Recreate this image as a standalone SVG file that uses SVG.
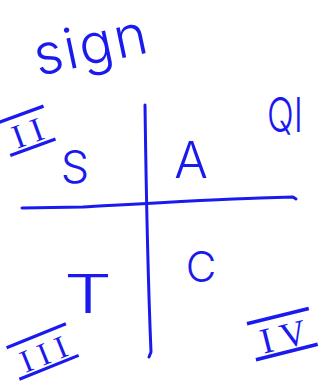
<svg xmlns="http://www.w3.org/2000/svg" width="327" height="383" viewBox="0 0 327 383">
<style>
.ink{fill:#1a1aee;font-family:Inter,Roboto,"Liberation Sans",sans-serif;font-weight:300;}
.rom{fill:#1a1aee;font-family:"Liberation Serif","Times New Roman",serif;text-decoration:overline underline;white-space:pre;}
.ax{fill:none;stroke:#1a1aee;stroke-width:3;stroke-linecap:round;stroke-linejoin:round;}
</style>
<rect width="327" height="383" fill="#ffffff"/>
<g id="axes">
<path class="ax" d="M145,105 C146,180 148,280 151,352 L149,357"/>
<path class="ax" d="M22,208 L83,207 C120,205 200,200 260,198 L293,197 L296,199"/>
</g>
<g id="title"><text class="ink" x="38" y="76" font-size="56" letter-spacing="2" transform="rotate(-12 38 76)">sign</text></g>
<g id="q2"><text class="rom" x="0" y="0" font-size="34" transform="translate(9 152) rotate(-20)"> I I </text></g>
<g id="q1"><text class="ink" x="267" y="132" font-size="48" textLength="36" lengthAdjust="spacingAndGlyphs">QI</text></g>
<g id="q3"><text class="rom" x="0" y="0" font-size="32" transform="translate(18 376) rotate(-22)"> I I I </text></g>
<g id="q4"><text class="rom" x="0" y="0" font-size="36" transform="translate(255 356) rotate(-14)"> I V </text></g>
<g id="s"><text class="ink" x="75" y="183" font-size="45" text-anchor="middle">S</text></g>
<g id="a"><text class="ink" x="191" y="178" font-size="50" text-anchor="middle">A</text></g>
<g id="t"><text class="ink" x="0" y="0" font-size="54" transform="translate(64 313) scale(1.4 1)">T</text></g>
<g id="c"><text class="ink" x="201" y="282" font-size="42" text-anchor="middle">C</text></g>
</svg>
